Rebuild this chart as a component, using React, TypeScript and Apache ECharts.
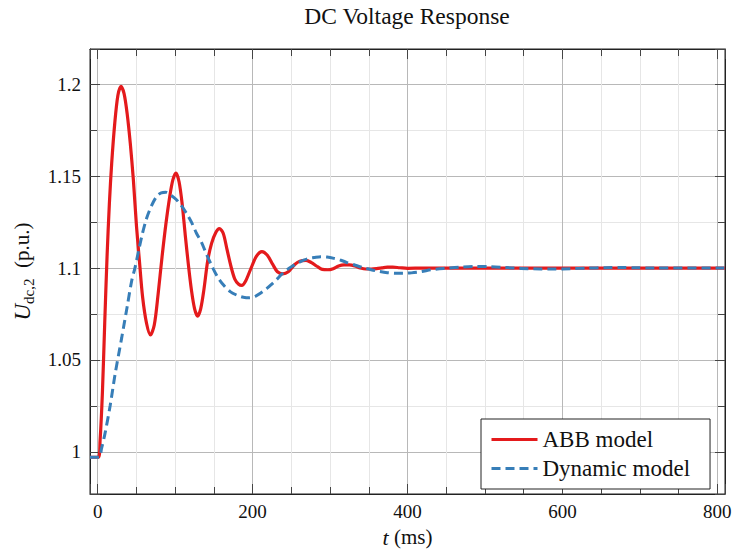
import React, { useEffect, useRef } from 'react';
import * as echarts from 'echarts';

// ABB model (time in ms, voltage in p.u.)
const abbT = [-10, 0.8, 3, 6, 9, 12, 15, 18, 22, 26, 30, 34, 38, 42, 46, 50, 54, 58, 63, 68, 73, 78, 83, 88, 93, 97, 101, 105, 109, 113, 117, 121, 125, 129, 133, 137, 142, 147, 152, 157, 162, 167, 172, 177, 182, 186, 191, 198, 205, 212, 219, 226, 232, 239, 246, 254, 261, 269, 276, 283, 290, 297, 304, 311, 318, 325, 332, 339, 346, 353, 360, 367, 374, 381, 390, 400, 420, 810];
const abbV = [0.997, 0.997, 1.006, 1.032, 1.07, 1.106, 1.135, 1.157, 1.179, 1.194, 1.199, 1.195, 1.184, 1.168, 1.148, 1.123, 1.103, 1.084, 1.07, 1.0636, 1.069, 1.086, 1.106, 1.124, 1.139, 1.148, 1.1517, 1.147, 1.135, 1.118, 1.102, 1.088, 1.078, 1.0739, 1.078, 1.088, 1.104, 1.1135, 1.119, 1.1215, 1.119, 1.11, 1.101, 1.094, 1.0912, 1.0906, 1.093, 1.1, 1.1065, 1.109, 1.107, 1.102, 1.098, 1.0969, 1.098, 1.1018, 1.1038, 1.1042, 1.103, 1.101, 1.0993, 1.0991, 1.0997, 1.1012, 1.1018, 1.1018, 1.1012, 1.1001, 1.0995, 1.0995, 1.0997, 1.1001, 1.1005, 1.1005, 1.1002, 1.0999, 1.1, 1.1];

// Dynamic model
const dynT = [-10, 1.5, 5, 9.4, 16, 22.3, 30.9, 38, 43.8, 48, 56.7, 63, 69.5, 76, 82, 88, 94, 101, 108, 115, 121, 127.5, 134, 140, 147, 155, 163, 171, 180, 188, 196, 204, 211, 218, 224, 231, 237, 245, 252, 258, 266, 273, 280, 288, 296, 305, 314, 322, 331, 342, 353, 363, 374, 385, 395, 405, 418, 430, 441, 452, 470, 488, 505, 520, 538, 555, 572, 590, 610, 632, 655, 675, 697, 718, 810];
const dynV = [0.997, 0.997, 1.002, 1.01, 1.025, 1.042, 1.062, 1.079, 1.093, 1.1, 1.117, 1.127, 1.134, 1.139, 1.141, 1.1413, 1.1398, 1.1375, 1.134, 1.1295, 1.125, 1.119, 1.114, 1.108, 1.1015, 1.095, 1.0905, 1.0872, 1.0852, 1.0841, 1.0838, 1.0848, 1.0866, 1.0888, 1.091, 1.0938, 1.0964, 1.0993, 1.1012, 1.1027, 1.1043, 1.1053, 1.1058, 1.1062, 1.106, 1.1053, 1.1043, 1.103, 1.1018, 1.1003, 1.0991, 1.0982, 1.0975, 1.0972, 1.0972, 1.0974, 1.0981, 1.0991, 1.0996, 1.1, 1.1006, 1.1009, 1.1008, 1.1005, 1.1, 1.0997, 1.0995, 1.0995, 1.0997, 1.1, 1.1002, 1.1003, 1.1002, 1.1, 1.1];

const seriesNames = ['ABB model', 'Dynamic model'];
const chartTitle = 'DC Voltage Response';
const xMin = -10;
const xMax = 810;
const yMin = 0.977;
const yMax = 1.2193;

const FONT = "'Liberation Serif', 'Times New Roman', serif";
const TXT = '#111';

function zip(t: number[], v: number[]) {
  return t.map((x, i) => [x, v[i]]);
}

export default function App() {
  const ref = useRef<HTMLDivElement>(null);
  useEffect(() => {
    const chart = echarts.init(ref.current!, null, { renderer: 'svg' });
    const tickStyle = { color: '#444', width: 1 };
    const isMult = (v: number, step: number) => Math.abs(v / step - Math.round(v / step)) < 1e-6;
    const baseX = {
      type: 'value',
      min: xMin,
      max: xMax,
      axisLine: { show: true, onZero: false, lineStyle: { color: '#222', width: 1 } },
      axisTick: { show: true, inside: true, length: 10, lineStyle: tickStyle },
      minorTick: { show: true, splitNumber: 4, length: 7, lineStyle: tickStyle },
    };
    const baseY = {
      type: 'value',
      min: yMin,
      max: yMax,
      axisLine: { show: true, onZero: false, lineStyle: { color: '#222', width: 1 } },
      axisTick: { show: true, inside: true, length: 10, lineStyle: tickStyle },
      minorTick: { show: true, splitNumber: 2, length: 7, lineStyle: tickStyle },
    };
    chart.setOption({
      animation: false,
      backgroundColor: '#fff',
      grid: { left: 88, right: 12, top: 49, bottom: 56, show: true, borderColor: '#222', borderWidth: 1, backgroundColor: 'transparent' },
      graphic: [
        {
          type: 'text',
          x: 407,
          y: 16,
          style: { text: chartTitle, fontFamily: FONT, fontSize: 23.5, fill: TXT, align: 'center', verticalAlign: 'middle' },
        },
      ],
      legend: {
        orient: 'vertical',
        left: 481,
        top: 419,
        padding: [9, 20, 9, 9],
        itemGap: 6,
        itemWidth: 46,
        itemHeight: 14,
        backgroundColor: '#fff',
        borderColor: '#222',
        borderWidth: 1,
        borderRadius: 0,
        data: seriesNames,
        itemStyle: { opacity: 0 },
        lineStyle: { width: 3 },
        textStyle: { fontFamily: FONT, fontSize: 23, color: TXT, lineHeight: 22 },
      },
      xAxis: [
        {
          ...baseX,
          position: 'bottom',
          splitLine: { show: true, lineStyle: { color: '#b8b8b8', width: 1 } },
          minorSplitLine: { show: true, lineStyle: { color: '#e6e6e6', width: 1 } },
          axisLabel: {
            show: true,
            margin: 8,
            showMinLabel: false,
            showMaxLabel: false,
            fontFamily: FONT,
            fontSize: 19,
            color: TXT,
            formatter: (v: number) => (isMult(v, 200) ? String(v) : ''),
          },
          name: '{i|t} (ms)',
          nameLocation: 'middle',
          nameGap: 32,
          nameTextStyle: {
            fontFamily: FONT,
            fontSize: 21,
            color: TXT,
            rich: { i: { fontFamily: FONT, fontStyle: 'italic', fontSize: 22, color: TXT } },
          },
        },
        {
          ...baseX,
          position: 'top',
          axisLabel: { show: false },
          splitLine: { show: false },
          minorSplitLine: { show: false },
        },
      ],
      yAxis: [
        {
          ...baseY,
          position: 'left',
          splitLine: { show: true, lineStyle: { color: '#b8b8b8', width: 1 } },
          minorSplitLine: { show: true, lineStyle: { color: '#e6e6e6', width: 1 } },
          axisLabel: {
            show: true,
            margin: 9,
            showMinLabel: false,
            showMaxLabel: false,
            fontFamily: FONT,
            fontSize: 19,
            color: TXT,
            formatter: (v: number) => (isMult(v, 0.05) ? String(+v.toFixed(3)) : ''),
          },
          name: '{i|U}{s|dc,2}  (p.u.)',
          nameLocation: 'middle',
          nameRotate: 90,
          nameGap: 54,
          nameTextStyle: {
            fontFamily: FONT,
            fontSize: 21,
            lineHeight: 28,
            color: TXT,
            rich: {
              i: { fontFamily: FONT, fontStyle: 'italic', fontSize: 23, lineHeight: 28, color: TXT },
              s: { fontFamily: FONT, fontSize: 15, lineHeight: 15, verticalAlign: 'bottom', color: TXT },
            },
          },
        },
        {
          ...baseY,
          position: 'right',
          axisLabel: { show: false },
          splitLine: { show: false },
          minorSplitLine: { show: false },
        },
      ],
      series: [
        {
          type: 'line',
          name: seriesNames[0],
          xAxisIndex: 0,
          yAxisIndex: 0,
          data: zip(abbT, abbV),
          symbol: 'none',
          smooth: 0.3,
          lineStyle: { color: '#e41a1c', width: 3.2 },
          itemStyle: { color: '#e41a1c' },
        },
        {
          type: 'line',
          name: seriesNames[1],
          xAxisIndex: 0,
          yAxisIndex: 0,
          data: zip(dynT, dynV),
          symbol: 'none',
          smooth: 0.3,
          lineStyle: { color: '#377eb8', width: 3, type: [9, 5] },
          itemStyle: { color: '#377eb8' },
        },
      ],
    });
    return () => chart.dispose();
  }, []);
  return (
    <div
      ref={ref}
      style={{ position: 'fixed', left: 0, top: 0, width: 737, height: 553, background: '#fff' }}
    />
  );
}
